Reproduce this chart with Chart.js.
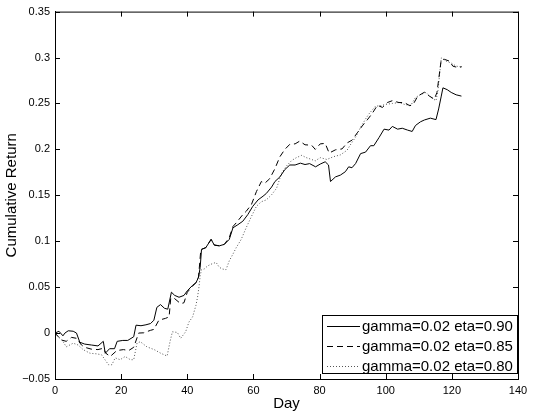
<!DOCTYPE html>
<html>
<head>
<meta charset="utf-8">
<script src="https://cdn.jsdelivr.net/npm/chart.js@4.4.0/dist/chart.umd.min.js"></script>
<style>
  html, body { margin: 0; padding: 0; background: #fff; }
  canvas { display: block; }
</style>
</head>
<body>
<canvas id="chart" width="535" height="415"></canvas>
<script>
// Series: day -> cumulative return
const labels = ['gamma=0.02 eta=0.90', 'gamma=0.02 eta=0.85', 'gamma=0.02 eta=0.80'];

const days90 = [0, 1.2, 2.4, 3, 4, 5.5, 6.5, 7.5, 9, 11, 13, 14.6, 15.2, 16.5, 18, 18.8, 20.5, 22, 23.8, 24.5,
    26, 27.5, 28.9, 29.9, 30.8, 31.9, 33.1, 34.1, 35.2, 36.2, 37.5, 39, 40, 41.6, 42.6, 43.4, 43.9, 44.3, 45.6, 47.2,
    48.2, 49.7, 51.2, 52.7, 53.8, 55.3, 56.8, 58.3, 59.8, 61.4, 62.9, 63.9, 65.5, 66.5, 68, 69.5, 71, 72.6, 74.2, 75.6,
    77, 78.8, 80.2, 81.7, 82.7, 83.3, 84.8, 86.3, 87.8, 88.8, 89.8, 90.9, 92.4, 93.9, 95.4, 96.4, 98, 99.5, 101, 102,
    103.6, 105, 106.6, 108, 109, 110.5, 111.7, 113.5, 115.2, 116, 116.8, 117.3, 118.6, 119.8, 121.3, 122.9];
const ret90 = [0, 0.002, -0.003, 0, 0.0025, 0.002, 0, -0.010, -0.012, -0.013, -0.014, -0.009, -0.022, -0.017, -0.017, -0.009, -0.008, -0.008, -0.004, 0.0086,
    0.008, 0.009, 0.0104, 0.014, 0.028, 0.031, 0.027, 0.026, 0.0445, 0.041, 0.039, 0.041, 0.046, 0.052, 0.0546, 0.0607, 0.0715, 0.091, 0.093, 0.102,
    0.0956, 0.095, 0.0966, 0.102, 0.1146, 0.118, 0.1218, 0.129, 0.138, 0.145, 0.149, 0.152, 0.159, 0.165, 0.170, 0.178, 0.183, 0.183, 0.185, 0.1835,
    0.1845, 0.181, 0.184, 0.1865, 0.183, 0.165, 0.170, 0.172, 0.1757, 0.181, 0.180, 0.1846, 0.1954, 0.197, 0.204, 0.204, 0.213, 0.222, 0.221, 0.225,
    0.222, 0.223, 0.221, 0.2195, 0.226, 0.230, 0.232, 0.234, 0.2324, 0.244, 0.258, 0.267, 0.265, 0.262, 0.2594, 0.258];

const days85 = [0, 1.9, 3.4, 5, 6.5, 8, 9, 11, 13, 14.6, 15.4, 16.7, 18.7, 20.7, 22.3, 23.8, 25.3, 26.8, 28.9, 29.9,
    31.4, 33.4, 34.5, 35, 36, 38, 39, 40, 41.6, 42.6, 43.4, 44.1, 45.6, 47.2, 48.2, 49.7, 51.2, 52.7, 53.8, 54.8,
    56.8, 57.8, 59.4, 60.9, 62.4, 63.4, 64.9, 66.5, 68, 69.5, 71, 72.6, 74, 75.6, 77.6, 78.7, 80.2, 81.7, 82.9, 84.8,
    86.8, 88.3, 89.8, 91.4, 92.9, 94.4, 95.9, 97.5, 99, 100.5, 102, 104, 105.6, 107.3, 108.3, 109.7, 111.7, 113.2, 114.7, 115.5,
    116.8, 117.8, 119.3, 120.3, 121.9, 123];
const ret85 = [0, -0.0075, -0.009, -0.0047, -0.0057, -0.013, -0.0155, -0.0175, -0.018, -0.0165, -0.022, -0.0255, -0.019, -0.018, -0.019, -0.0155, 0, 0.0003, 0.003, 0.004,
    0.014, 0.016, 0.0176, 0.038, 0.038, 0.032, 0.033, 0.0445, 0.051, 0.055, 0.061, 0.091, 0.093, 0.102, 0.096, 0.095, 0.0966, 0.104, 0.116, 0.12,
    0.129, 0.1325, 0.14, 0.154, 0.165, 0.163, 0.168, 0.179, 0.192, 0.2, 0.2055, 0.206, 0.209, 0.205, 0.2045, 0.2, 0.206, 0.2065, 0.196, 0.1995,
    0.2005, 0.207, 0.21, 0.218, 0.2255, 0.232, 0.239, 0.248, 0.2457, 0.251, 0.253, 0.251, 0.251, 0.2475, 0.249, 0.258, 0.2622, 0.258, 0.2547, 0.262,
    0.298, 0.298, 0.296, 0.2906, 0.289, 0.29];

const days80 = [0, 1, 2.4, 3.4, 5.5, 7, 8.5, 10.6, 12.6, 14.1, 15.1, 16.2, 17.2, 18.2, 19.7, 21.2, 22.8, 23.8, 24.8, 25.8,
    27.8, 30, 32, 33.9, 34.8, 35.5, 37, 38, 39.5, 40.5, 41.6, 42.6, 43.1, 43.6, 43.9, 44.3, 45.1, 46.1, 47.2, 48.7,
    49.7, 50.7, 51.7, 52.7, 53.8, 54.8, 56.3, 57.8, 59.4, 60.9, 62.4, 63.9, 65.5, 67, 68.5, 70, 71.6, 73, 74.6, 76,
    77.6, 78.7, 80.2, 82.2, 84.2, 86.3, 88.3, 89.5, 90.9, 92.4, 93.9, 94.9, 96.9, 98.5, 100, 102, 104, 106, 107.6, 109,
    110.7, 112.2, 113.7, 115.2, 115.8, 116.8, 118.3, 119.8, 121.3, 122.9];
const ret80 = [0, -0.004, -0.009, -0.015, -0.011, -0.013, -0.018, -0.022, -0.0226, -0.0237, -0.029, -0.0345, -0.0345, -0.027, -0.029, -0.0255, -0.029, -0.029, -0.011, -0.0094,
    -0.015, -0.018, -0.022, -0.025, -0.009, 0.0014, 0.0007, -0.0057, 0.0014, 0.012, 0.0176, 0.030, 0.039, 0.052, 0.0625, 0.069, 0.0697, 0.073, 0.075, 0.077,
    0.0715, 0.0697, 0.069, 0.0787, 0.086, 0.093, 0.102, 0.1146, 0.127, 0.138, 0.143, 0.145, 0.1506, 0.1577, 0.174, 0.182, 0.188, 0.191, 0.1935, 0.191,
    0.189, 0.1875, 0.191, 0.189, 0.192, 0.194, 0.199, 0.206, 0.2134, 0.224, 0.233, 0.2385, 0.247, 0.2475, 0.249, 0.25, 0.251, 0.2486, 0.248, 0.2565,
    0.26, 0.262, 0.2565, 0.253, 0.264, 0.2996, 0.296, 0.294, 0.2906, 0.2898];

const FONT = 'Liberation Sans, Arial, Helvetica, sans-serif';
Chart.defaults.font.family = FONT;
Chart.defaults.color = '#000';

function toPoints(days, vals) {
    return days.map((d, i) => ({ x: d, y: vals[i] }));
}

// box on + inward ticks on all four sides, like the original figure
const boxTicks = {
    id: 'boxTicks',
    afterDraw(chart) {
        const { ctx, chartArea: a, scales: { x, y } } = chart;
        ctx.save();
        ctx.strokeStyle = '#000';
        ctx.lineWidth = 1;
        ctx.beginPath();
        ctx.moveTo(a.left, a.top + 0.5);
        ctx.lineTo(a.right + 0.5, a.top + 0.5);
        ctx.lineTo(a.right + 0.5, a.bottom);
        x.ticks.forEach(t => {
            const px = Math.round(x.getPixelForValue(t.value)) + 0.5;
            ctx.moveTo(px, a.bottom); ctx.lineTo(px, a.bottom - 5);
            ctx.moveTo(px, a.top); ctx.lineTo(px, a.top + 5);
        });
        y.ticks.forEach(t => {
            const py = Math.round(y.getPixelForValue(t.value)) + 0.5;
            ctx.moveTo(a.left, py); ctx.lineTo(a.left + 5, py);
            ctx.moveTo(a.right, py); ctx.lineTo(a.right - 5, py);
        });
        ctx.stroke();
        ctx.restore();
    }
};

// legend box in the lower right corner of the plot
const boxLegend = {
    id: 'boxLegend',
    afterDraw(chart) {
        const { ctx, chartArea: a } = chart;
        const w = 195, h = 58;
        const left = a.right - w - 1, top = a.bottom - h - 6;
        ctx.save();
        ctx.fillStyle = '#fff';
        ctx.fillRect(left, top, w, h);
        ctx.strokeStyle = '#000';
        ctx.lineWidth = 1;
        ctx.strokeRect(left + 0.5, top + 0.5, w, h);
        ctx.font = '15px ' + FONT;
        ctx.textBaseline = 'middle';
        chart.data.datasets.forEach((ds, i) => {
            const cy = top + 11 + i * 20 + 0.5;
            ctx.beginPath();
            ctx.setLineDash(ds.borderDash || []);
            ctx.strokeStyle = ds.borderColor;
            ctx.moveTo(left + 5, cy);
            ctx.lineTo(left + 38, cy);
            ctx.stroke();
            ctx.setLineDash([]);
            ctx.fillStyle = '#000';
            ctx.fillText(ds.label, left + 40, cy);
        });
        ctx.restore();
    }
};

new Chart(document.getElementById('chart'), {
    type: 'line',
    data: {
        datasets: [
            { label: labels[0], data: toPoints(days90, ret90), borderColor: '#000', borderWidth: 1 },
            { label: labels[1], data: toPoints(days85, ret85), borderColor: '#000', borderWidth: 1, borderDash: [6, 4] },
            { label: labels[2], data: toPoints(days80, ret80), borderColor: '#555', borderWidth: 1, borderDash: [1, 2] }
        ]
    },
    options: {
        responsive: false,
        animation: false,
        devicePixelRatio: 1,
        elements: { point: { radius: 0 }, line: { tension: 0 } },
        layout: { padding: { top: 10, right: 17, left: 0, bottom: 0 } },
        plugins: { legend: { display: false }, tooltip: { enabled: false } },
        scales: {
            x: {
                type: 'linear',
                min: 0, max: 140,
                ticks: { stepSize: 20, padding: 5, font: { size: 11 } },
                grid: { drawOnChartArea: false, drawTicks: false },
                border: { color: '#000', width: 1 },
                title: { display: true, text: 'Day', font: { size: 15 }, padding: { top: 4, bottom: 2 } },
                afterFit(scale) { scale.height = 36; }
            },
            y: {
                min: -0.05, max: 0.35,
                ticks: {
                    stepSize: 0.05, padding: 5, font: { size: 11 },
                    callback: v => String(parseFloat(v.toFixed(2))).replace('-', '\u2212')
                },
                grid: { drawOnChartArea: false, drawTicks: false },
                border: { color: '#000', width: 1 },
                title: { display: true, text: 'Cumulative Return', font: { size: 15 }, padding: { top: 3, bottom: 0 } },
                afterFit(scale) { scale.width = 55; }
            }
        }
    },
    plugins: [boxTicks, boxLegend]
});
</script>
</body>
</html>
